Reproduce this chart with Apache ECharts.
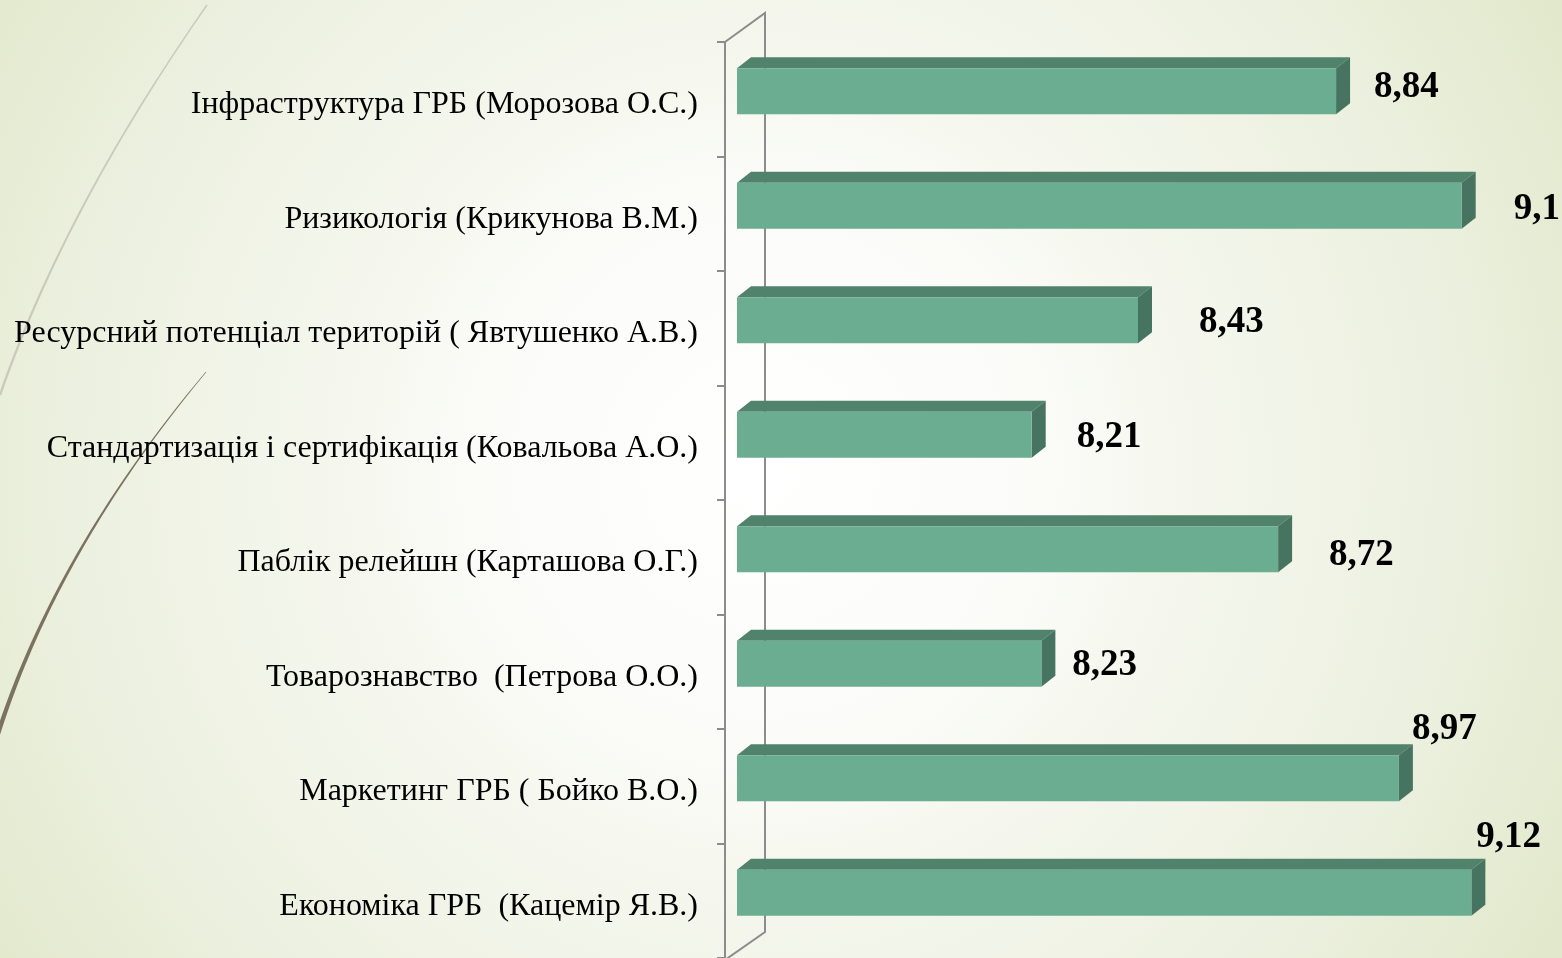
<!DOCTYPE html>
<html>
<head>
<meta charset="utf-8">
<script src="https://cdn.jsdelivr.net/npm/echarts@6/dist/echarts.min.js"></script>
<style>
html,body{margin:0;padding:0;width:1562px;height:958px;overflow:hidden;background:#fff}
#c{width:1562px;height:958px}
</style>
</head>
<body>
<div id="c"></div>
<script>
// ---- data ----
const categories = [
  'Інфраструктура ГРБ (Морозова О.С.)',
  'Ризикологія (Крикунова В.М.)',
  'Ресурсний потенціал територій ( Явтушенко А.В.)',
  'Стандартизація і сертифікація (Ковальова А.О.)',
  'Паблік релейшн (Карташова О.Г.)',
  'Товарознавство  (Петрова О.О.)',
  'Маркетинг ГРБ ( Бойко В.О.)',
  'Економіка ГРБ  (Кацемір Я.В.)'
];
const scores = [8.84, 9.1, 8.43, 8.21, 8.72, 8.23, 8.97, 9.12];
const axisMin = 7.6;
const axisMax = 9.2;

// ---- presentation (label nudges relative to bar end, px) ----
const valueLabelNudge = [[38,-4],[52,4],[61,2],[45,3],[51,6],[31,2],[13,-49],[5,-55]];

const GRID = {left: 737, top: 42, width: 773, height: 918};
const AXIS_OFFSET = 12;
const FRONT = '#6AAD91', TOP = '#50826C', SIDE = '#477461';
const BAR_H = 46, DX = 14, DY = -11, FRONT_SHIFT_Y = -8;

function fmt(v){ return String(v).replace('.', ','); }

const chart = echarts.init(document.getElementById('c'), null, {renderer:'canvas'});

// decorative curves (theme ornaments)
function quadPts(p0, c, p2, n){
  const pts=[];
  for(let i=0;i<=n;i++){
    const t=i/n, u=1-t;
    pts.push([u*u*p0[0]+2*u*t*c[0]+t*t*p2[0], u*u*p0[1]+2*u*t*c[1]+t*t*p2[1]]);
  }
  return pts;
}
function taperedPolygon(p0, c, p2, w0, w1, n){
  const pts = quadPts(p0,c,p2,n);
  const left=[], right=[];
  for(let i=0;i<pts.length;i++){
    const a = pts[Math.max(0,i-1)], b = pts[Math.min(pts.length-1,i+1)];
    let dx=b[0]-a[0], dy=b[1]-a[1]; const L=Math.hypot(dx,dy)||1; dx/=L; dy/=L;
    const w = (w0 + (w1-w0)*i/(pts.length-1))/2;
    left.push([pts[i][0]-dy*w, pts[i][1]+dx*w]);
    right.push([pts[i][0]+dy*w, pts[i][1]-dx*w]);
  }
  return left.concat(right.reverse());
}

const fx = GRID.left - AXIS_OFFSET, gTop = GRID.top, gBot = GRID.top + GRID.height;

const option = {
  backgroundColor: {
    type:'radial', x:760, y:470, r:930, global:true,
    colorStops:[
      {offset:0, color:'#FFFFFF'},
      {offset:0.3, color:'#FBFCF8'},
      {offset:0.45, color:'#F5F7EE'},
      {offset:0.75, color:'#ECF0DF'},
      {offset:1, color:'#E2E8CB'}
    ]
  },
  animation:false,
  grid: {left: GRID.left, top: GRID.top, width: GRID.width, height: GRID.height, containLabel:false},
  xAxis: {type:'value', min: axisMin, max: axisMax, show:false},
  yAxis: {
    type:'category', data: categories, inverse:true, offset: AXIS_OFFSET,
    axisLine:{show:true, lineStyle:{color:'#8C8C8C', width:2}},
    axisTick:{show:true, length:8, lineStyle:{color:'#8C8C8C', width:2}},
    axisLabel:{interval:0, margin:27, color:'#000', fontSize:32, fontFamily:'Liberation Serif',
      verticalAlign:'top', lineHeight:11},
    splitLine:{show:false}
  },
  graphic: [
    {type:'polygon', z:0, silent:true, shape:{points: taperedPolygon([207,5],[64,210],[0,395],1.4,2.4,40)}, style:{fill:'#CACABB'}},
    {type:'polygon', z:0, silent:true, shape:{points: taperedPolygon([206,372],[55,552],[-4,740],0.6,4.5,50)}, style:{fill:'#7B7260'}},
    {type:'polyline', z:1, silent:true, shape:{points:[[fx,gTop],[fx+40,gTop-29],[fx+40,gBot-28],[fx,gBot]]}, style:{stroke:'#8C8C8C', lineWidth:2, fill:null}}
  ],
  series: [{
    type:'custom', z:5, clip:false,
    data: scores.map((v,i)=>[v,i]),
    encode:{x:0, y:1},
    renderItem: function(params, api){
      const v = api.value(0), ci = api.value(1);
      const p0 = api.coord([axisMin, ci]);
      const p1 = api.coord([v, ci]);
      const x0 = p0[0], x1 = p1[0];
      const cy = p0[1] + FRONT_SHIFT_Y;
      const t = cy - BAR_H/2, b = cy + BAR_H/2;
      const nd = valueLabelNudge[params.dataIndex];
      return {
        type:'group',
        children:[
          {type:'polygon', shape:{points:[[x0,t],[x1,t],[x1+DX,t+DY],[x0+DX,t+DY]]}, style:{fill:TOP}},
          {type:'polygon', shape:{points:[[x1,t],[x1+DX,t+DY],[x1+DX,b+DY],[x1,b]]}, style:{fill:SIDE}},
          {type:'rect', shape:{x:x0, y:t, width:x1-x0, height:BAR_H}, style:{fill:FRONT}},
          {type:'text', style:{text: fmt(v), x: x1+nd[0], y: cy+nd[1], align:'left', verticalAlign:'middle',
            fontSize:37, fontWeight:'bold', fontFamily:'Liberation Serif', fill:'#000'}}
        ]
      };
    }
  }]
};
chart.setOption(option);
</script>
</body>
</html>
